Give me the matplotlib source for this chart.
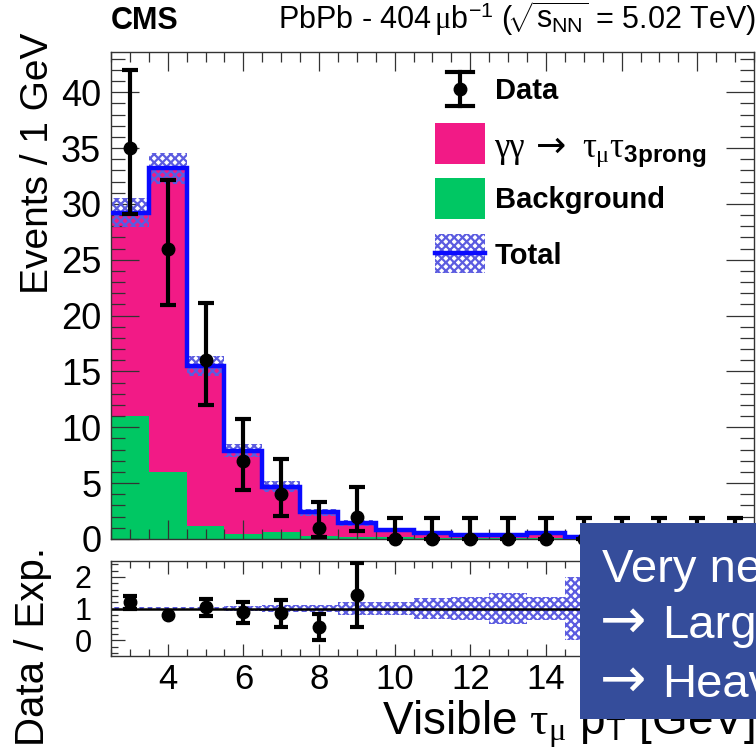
import numpy as np
import matplotlib
matplotlib.use('Agg')
import matplotlib.pyplot as plt
from matplotlib.patches import Rectangle
from matplotlib.lines import Line2D
from matplotlib.ticker import MultipleLocator

plt.rcParams['font.family'] = ['Liberation Sans', 'DejaVu Sans']
plt.rcParams['mathtext.fontset'] = 'custom'
plt.rcParams['mathtext.rm'] = 'Liberation Serif'
plt.rcParams['mathtext.it'] = 'Liberation Serif'
plt.rcParams['mathtext.sf'] = 'Liberation Sans'
plt.rcParams['mathtext.bf'] = 'Liberation Sans:bold'
plt.rcParams['hatch.linewidth'] = 1.6
plt.rcParams['hatch.color'] = '#5c5ce0'

# ---------------- data ----------------
bin_centers = [3, 4, 5, 6, 7, 8, 9, 10, 11, 12, 13, 14, 15, 16, 17, 18, 19]
bin_width = 1.0
data = [35, 26, 16, 7, 4, 1, 2, 0, 0, 0, 0, 0, 0, 0, 0, 0, 0]
data_err_up = [6.97, 6.16, 5.10, 3.77, 3.16, 2.30, 2.64,
               1.84, 1.84, 1.84, 1.84, 1.84, 1.84, 1.84, 1.84, 1.84, 1.84]
data_err_dn = [5.89, 5.07, 3.96, 2.58, 1.91, 0.83, 1.29,
               0, 0, 0, 0, 0, 0, 0, 0, 0, 0]
background = [11.0, 6.0, 1.2, 0.45, 0.65, 0.27, 0.2, 0.15, 0.12,
              0.1, 0.1, 0.1, 0.05, 0.05, 0.05, 0.05, 0.05]
signal = [18.2, 27.2, 14.3, 7.45, 4.05, 2.13, 1.2, 0.65, 0.43,
          0.25, 0.25, 0.4, 0.1, 0.08, 0.08, 0.08, 0.08]
total_unc = [1.3, 1.4, 0.9, 0.6, 0.5, 0.3, 0.28, 0.17, 0.19,
             0.13, 0.17, 0.18, 0.15, 0.15, 0.15, 0.15, 0.15]
x_ticks = [4, 6, 8, 10, 12, 14, 16, 18]
y_ticks = [0, 5, 10, 15, 20, 25, 30, 35, 40]
r_ticks = [0, 1, 2]

PINK = '#f21a86'
GREEN = '#00c763'
HATCH = '#5c5ce0'
BLUE = '#0a0aff'
BOX = '#354d9b'

c = np.array(bin_centers, float)
d = np.array(data, float)
bkg = np.array(background)
sig = np.array(signal)
tot = bkg + sig
unc = np.array(total_unc)
edges = np.append(c - bin_width / 2, c[-1] + bin_width / 2)

W, H = 756, 754
fig = plt.figure(figsize=(W / 100, H / 100), dpi=100)


def fx(px):
    return px / W


def fy(py):
    return 1 - py / H


ax = fig.add_axes([fx(111), fy(539), fx(754) - fx(111), fy(52) - fy(539)])
rax = fig.add_axes([fx(111), fy(656), fx(754) - fx(111), fy(561) - fy(656)])

# ---------------- main panel ----------------
ax.bar(c, bkg, width=bin_width, color=GREEN, lw=0, zorder=1)
ax.bar(c, sig, bottom=bkg, width=bin_width, color=PINK, lw=0, zorder=1)
ax.bar(c, 2 * unc, bottom=tot - unc, width=bin_width, facecolor='none',
       edgecolor=HATCH, hatch='xxxx', lw=0, zorder=2)
ax.stairs(tot, edges, color=BLUE, lw=3.2, baseline=None, zorder=3)
ax.errorbar(c, d, yerr=[data_err_dn, data_err_up], fmt='o', color='k',
            ms=9, elinewidth=3, capsize=6, capthick=3, zorder=5,
            clip_on=False)

ax.set_xlim(edges[0], edges[-1])
ax.set_ylim(0, 43.6)
ax.set_yticks(y_ticks)
ax.set_xticks(x_ticks)
ax.xaxis.set_minor_locator(MultipleLocator(0.5))
ax.yaxis.set_minor_locator(MultipleLocator(1))
ax.tick_params(which='both', direction='in', top=True, right=True,
               labelbottom=False, width=0.9, color='#333333')
ax.tick_params(axis='y', which='major', length=20, labelsize=26, pad=7)
ax.tick_params(axis='y', which='minor', length=10)
ax.tick_params(axis='x', which='major', length=14)
ax.tick_params(axis='x', which='minor', length=7)
for s in ax.spines.values():
    s.set_linewidth(1.0)
    s.set_color('#333333')

# ---------------- ratio panel ----------------
rel = unc / tot
rax.bar(c, 2 * rel, bottom=1 - rel, width=bin_width, facecolor='none',
        edgecolor=HATCH, hatch='xxxx', lw=0, zorder=1)
rax.axhline(1, color='k', lw=1.8, zorder=2)
ratio = d / tot
rerr = np.sqrt(d) / tot
has = d > 0
show_err = has & (rerr > 0.17)
rax.errorbar(c[show_err], ratio[show_err], yerr=rerr[show_err], fmt='o',
             color='k', ms=9, elinewidth=3, capsize=5, capthick=3, zorder=4)
rax.plot(c[has & ~show_err], ratio[has & ~show_err], 'o', color='k',
         ms=9, zorder=4)
rax.set_xlim(edges[0], edges[-1])
rax.set_ylim(-0.5, 2.5)
rax.set_xticks(x_ticks)
rax.set_yticks(r_ticks)
rax.xaxis.set_minor_locator(MultipleLocator(0.5))
rax.yaxis.set_minor_locator(MultipleLocator(0.2))
rax.tick_params(which='both', direction='in', top=True, right=True,
                width=0.9, color='#333333')
rax.tick_params(axis='x', which='major', length=9, labelsize=25, pad=5)
rax.tick_params(axis='x', which='minor', length=5)
rax.tick_params(axis='y', which='major', length=10, labelsize=22, pad=14)
rax.tick_params(axis='y', which='minor', length=5)
for s in rax.spines.values():
    s.set_linewidth(1.0)
    s.set_color('#333333')

# ---------------- texts ----------------
fig.text(fx(111), fy(29), 'CMS', fontsize=22, fontweight='bold',
         ha='left', va='baseline')
fig.text(fx(756), fy(29),
         r'PbPb - 404$\,\mathrm{\mu}$b$^{\mathsf{-1}}$ ($\!\sqrt{\mathsf{s}_{\mathsf{NN}}}$ = 5.02 TeV)',
         fontsize=22, ha='right', va='baseline')
fig.text(fx(38), fy(33), 'Events / 1 GeV', fontsize=28, rotation=90,
         ha='center', va='top')
fig.text(fx(33), fy(647), 'Data / Exp.', fontsize=29, rotation=90,
         ha='center', va='center')
fig.text(fx(755), fy(735), r'Visible $\tau_{\mu}$ $\mathsf{p}_{\mathsf{T}}$ [GeV]',
         fontsize=33, ha='right', va='baseline')

# ---------------- legend ----------------
lx0, lx1 = 435, 485
fig.add_artist(Line2D([fx(460), fx(460)], [fy(72), fy(106)], color='k', lw=3,
                      transform=fig.transFigure))
for yy in (72, 106):
    fig.add_artist(Line2D([fx(447), fx(473)], [fy(yy), fy(yy)], color='k',
                          lw=3, transform=fig.transFigure))
fig.add_artist(Line2D([fx(460)], [fy(89)], marker='o', ms=9, color='k',
                      transform=fig.transFigure))
fig.add_artist(Rectangle((fx(lx0), fy(164)), fx(lx1) - fx(lx0), fy(123) - fy(164),
                         facecolor=PINK, lw=0, transform=fig.transFigure))
fig.add_artist(Rectangle((fx(lx0), fy(219)), fx(lx1) - fx(lx0), fy(178) - fy(219),
                         facecolor=GREEN, lw=0, transform=fig.transFigure))
fig.add_artist(Rectangle((fx(lx0), fy(273)), fx(lx1) - fx(lx0), fy(234) - fy(273),
                         facecolor='none', edgecolor=HATCH, hatch='xxxx', lw=0,
                         transform=fig.transFigure))
fig.add_artist(Line2D([fx(lx0), fx(lx1)], [fy(253), fy(253)], color=BLUE, lw=3.2,
                      transform=fig.transFigure))
fig.text(fx(495), fy(91), 'Data', fontsize=21, fontweight='bold', va='center')
fig.text(fx(494), fy(157), '\u03b3\u03b3', fontsize=25, family='Liberation Serif',
         va='baseline')
fig.text(fx(536), fy(157), '\u2192', fontsize=26, family='DejaVu Sans',
         va='baseline')
fig.text(fx(582), fy(157), r'$\tau_{\mu}\tau_{\mathbf{3prong}}$',
         fontsize=25, va='baseline')
fig.text(fx(495), fy(200), 'Background', fontsize=21, fontweight='bold', va='center')
fig.text(fx(495), fy(256), 'Total', fontsize=21, fontweight='bold', va='center')

# ---------------- overlay box ----------------
fig.add_artist(Rectangle((fx(580), fy(719)), fx(760) - fx(580), fy(523) - fy(719),
                         facecolor=BOX, lw=0, transform=fig.transFigure, zorder=10))
fig.text(fx(602), fy(582), 'Very ne', fontsize=34, color='white', ha='left',
         va='baseline', zorder=11)
for yy, s in ((638, 'Larg'), (697, 'Heav')):
    fig.text(fx(600), fy(yy), '\u2192', fontsize=40, color='white',
             family='DejaVu Sans', ha='left', va='baseline', zorder=11)
    fig.text(fx(662), fy(yy), s, fontsize=34, color='white', ha='left',
             va='baseline', zorder=11)

fig.savefig('out.png', dpi=100)
